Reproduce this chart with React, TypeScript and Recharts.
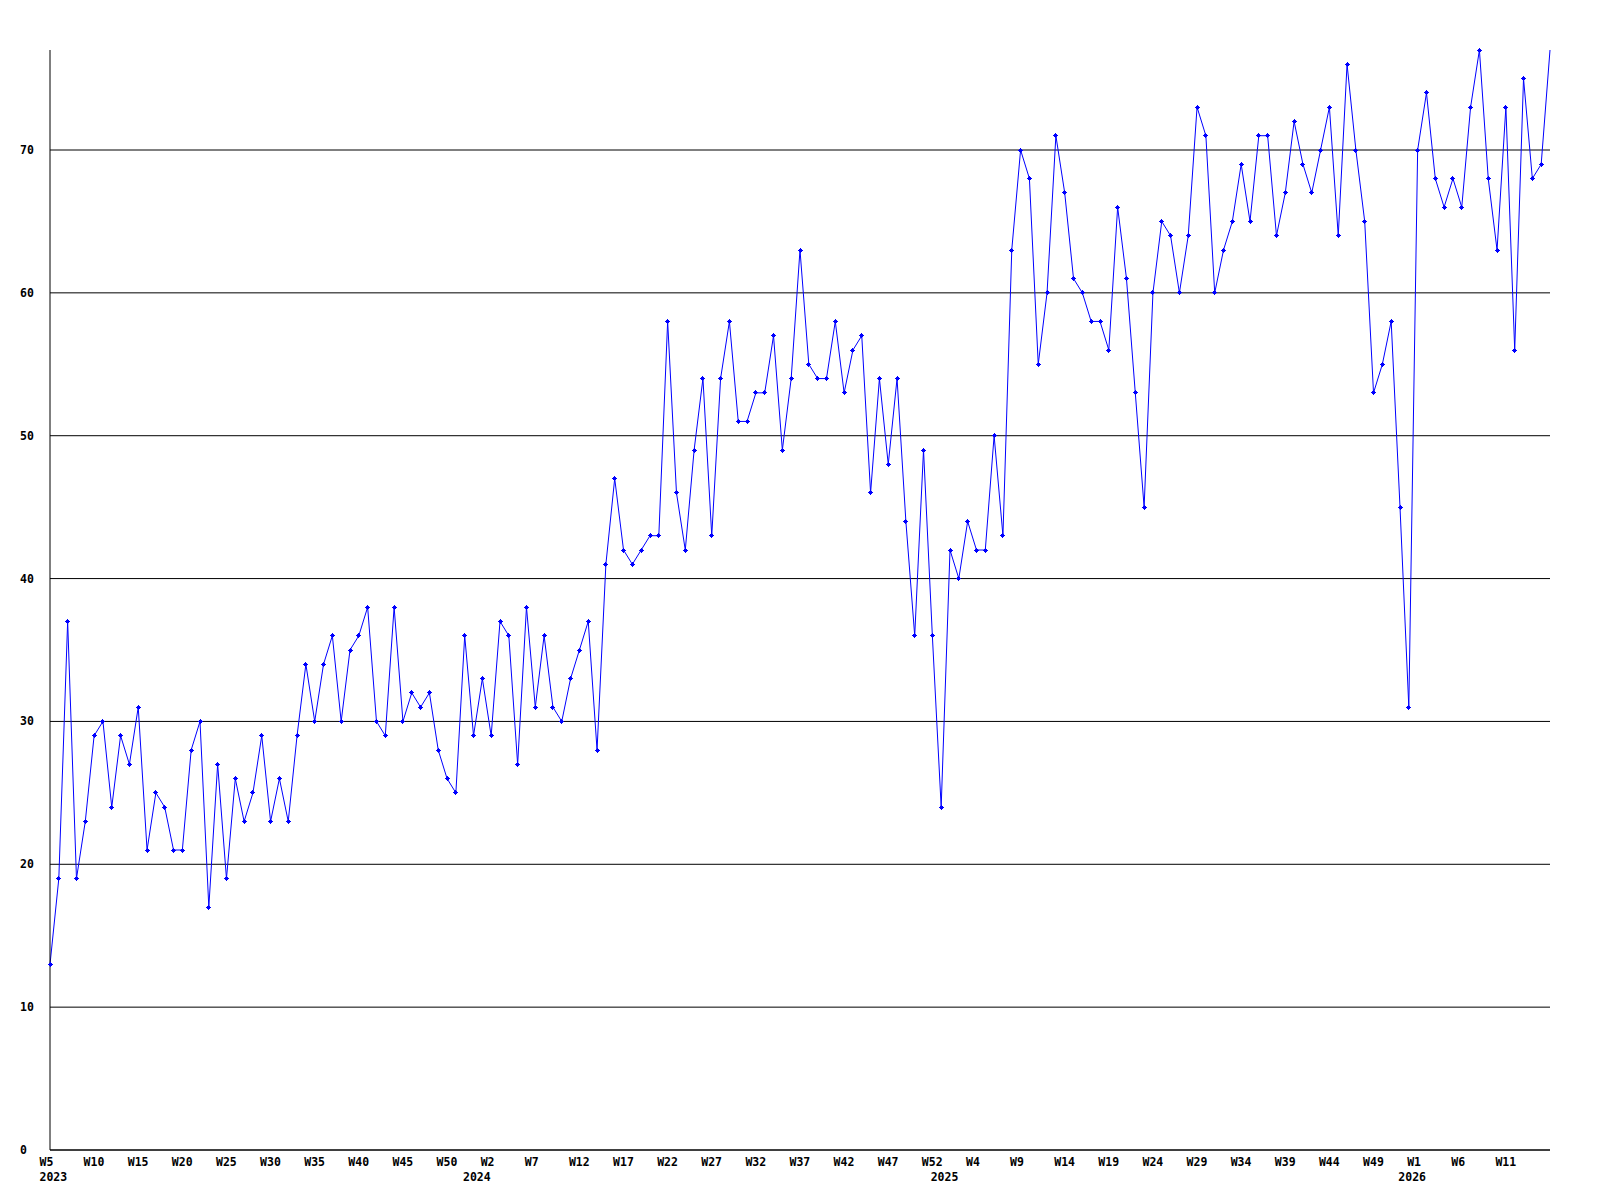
import { CartesianGrid, Line, LineChart, XAxis, YAxis } from "recharts";

// weekly counts, one array per year (weeks numbered W0..W52)
const years = [2023, 2024, 2025, 2026];
const firstWeek = [5, 0, 0, 0];

const counts2023 = [
  13, 19, 37, 19, 23, 29, 30, 24, 29, 27,
  31, 21, 25, 24, 21, 21, 28, 30, 17, 27,
  19, 26, 23, 25, 29, 23, 26, 23, 29, 34,
  30, 34, 36, 30, 35, 36, 38, 30, 29, 38,
  30, 32, 31, 32, 28, 26, 25, 36,
];
const counts2024 = [
  29, 33, 29, 37, 36, 27, 38, 31, 36, 31,
  30, 33, 35, 37, 28, 41, 47, 42, 41, 42,
  43, 43, 58, 46, 42, 49, 54, 43, 54, 58,
  51, 51, 53, 53, 57, 49, 54, 63, 55, 54,
  54, 58, 53, 56, 57, 46, 54, 48, 54, 44,
  36, 49, 36,
];
const counts2025 = [
  24, 42, 40, 44, 42, 42, 50, 43, 63, 70,
  68, 55, 60, 71, 67, 61, 60, 58, 58, 56,
  66, 61, 53, 45, 60, 65, 64, 60, 64, 73,
  71, 60, 63, 65, 69, 65, 71, 71, 64, 67,
  72, 69, 67, 70, 73, 64, 76, 70, 65, 53,
  55, 58, 45,
];
const counts2026 = [31, 70, 74, 68, 66, 68, 66, 73, 77, 68, 63, 73, 56, 75, 68, 69, 77];

const countsByYear = [counts2023, counts2024, counts2025, counts2026];
const yTicks = [0, 10, 20, 30, 40, 50, 60, 70];

const data = years.flatMap((year, i) =>
  countsByYear[i].map((count, j) => ({
    key: `${year}-W${firstWeek[i] + j}`,
    week: firstWeek[i] + j,
    year,
    count,
  }))
);

const font = {
  fontFamily: "'DejaVu Sans Mono', monospace",
  fontWeight: "bold" as const,
  fontSize: 11.5,
  fill: "#000",
};

function WeekTick(props: any) {
  const { x, y, index } = props;
  const row = data[index];
  if (!row) return <g />;
  const showWeek = index % 5 === 0 && index < data.length - 1;
  const showYear = index === 0 || row.week === 0;
  return (
    <g>
      {showWeek && (
        <text x={x - 10.5} y={y + 8} {...font}>
          W{row.week}
        </text>
      )}
      {showYear && (
        <text x={x - 10.5} y={y + 23} {...font}>
          {row.year}
        </text>
      )}
    </g>
  );
}

function CountTick(props: any) {
  const { y, payload } = props;
  return (
    <text x={20} y={y + 4} {...font}>
      {payload.value}
    </text>
  );
}

function Marker(props: any) {
  const { cx, cy, index } = props;
  if (index === data.length - 1 || cx == null) return <g key={index} />;
  return (
    <g key={index} fill="#0000ff" shapeRendering="crispEdges">
      <rect x={cx - 1.5} y={cy - 1.5} width={3} height={3} />
      <rect x={cx - 2.5} y={cy - 0.5} width={5} height={1} />
      <rect x={cx - 0.5} y={cy - 2.5} width={1} height={5} />
    </g>
  );
}

export default function App() {
  return (
    <div style={{ position: "absolute", left: 0, top: 0, width: 1600, height: 1200, background: "#fff" }}>
      <LineChart
        width={1600}
        height={1200}
        data={data}
        margin={{ top: 50, right: 50, bottom: 0, left: 0 }}
      >
        <CartesianGrid vertical={false} stroke="#000" horizontalValues={yTicks} />
        <XAxis
          dataKey="key"
          height={50}
          interval={0}
          tickLine={false}
          axisLine={{ stroke: "#000" }}
          tick={<WeekTick />}
        />
        <YAxis
          type="number"
          width={50}
          domain={[0, 77]}
          ticks={yTicks}
          tickLine={false}
          axisLine={{ stroke: "#000" }}
          tick={<CountTick />}
        />
        <Line
          type="linear"
          dataKey="count"
          stroke="#0000ff"
          strokeWidth={1}
          dot={Marker}
          activeDot={false}
          isAnimationActive={false}
        />
      </LineChart>
    </div>
  );
}
